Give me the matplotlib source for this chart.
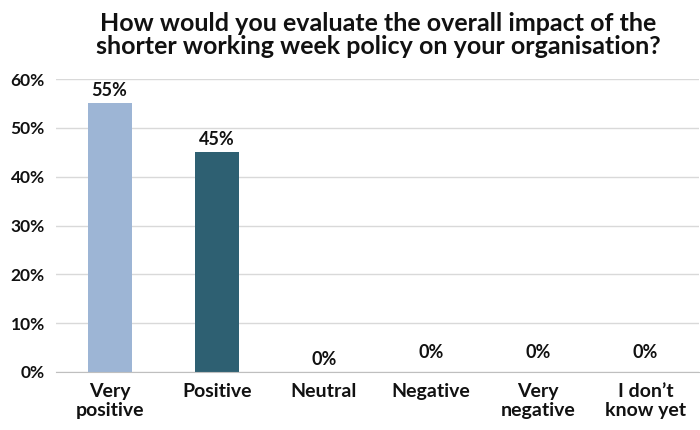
import matplotlib
matplotlib.use("Agg")
import matplotlib.pyplot as plt
from matplotlib.ticker import FuncFormatter

categories = ["Very\npositive", "Positive", "Neutral", "Negative", "Very\nnegative", "I don\u2019t\nknow yet"]
values = [55, 45, 0, 0, 0, 0]
value_labels = ["55%", "45%", "0%", "0%", "0%", "0%"]
yticks = [0, 10, 20, 30, 40, 50, 60]
colors = ["#9DB5D5", "#2E6072", "#2E6072", "#2E6072", "#2E6072", "#2E6072"]
label_offsets = [3, 3, 3, 8, 8, 8]  # points above bar top

plt.rcParams['font.family'] = ['Lato', 'DejaVu Sans']

fig = plt.figure(figsize=(7, 4.3), dpi=100)
ax = fig.add_axes([56/700, 1 - 372/430, 643/700, (372-79)/430])

x = list(range(len(categories)))
ax.bar(x, values, width=0.41, color=colors, zorder=3)
for xi, v, lab, off in zip(x, values, value_labels, label_offsets):
    ax.annotate(lab, (xi, v), xytext=(0, off), textcoords="offset points",
                ha="center", va="bottom", fontsize=13, fontweight="bold", color="#111111")

ax.set_xlim(-0.5, len(categories) - 0.5)
ax.set_ylim(0, 60)
ax.set_yticks(yticks)
ax.yaxis.set_major_formatter(FuncFormatter(lambda v, p: f"{v:.0f}%"))
ax.set_xticks(x)
ax.set_xticklabels(categories, fontsize=14, fontweight="bold", linespacing=1.15, color="#111111")
ax.tick_params(axis='y', labelsize=12.5, length=0, pad=8, labelcolor="#111111")
ax.tick_params(axis='x', length=0, pad=8)
for lab in ax.get_yticklabels():
    lab.set_fontweight("bold")
ax.grid(axis='y', color="#D9D9D9", linewidth=1, zorder=0)
for s in ["top", "right", "left"]:
    ax.spines[s].set_visible(False)
ax.spines["bottom"].set_color("#BFBFBF")
ax.spines["bottom"].set_zorder(4)

fig.text(378/700, 1 - 35/430, "How would you evaluate the overall impact of the\nshorter working week policy on your organisation?",
         ha="center", va="center", fontsize=18, fontweight="bold", linespacing=1.0, color="#111111")

fig.savefig("out.png", dpi=100, facecolor="white")
